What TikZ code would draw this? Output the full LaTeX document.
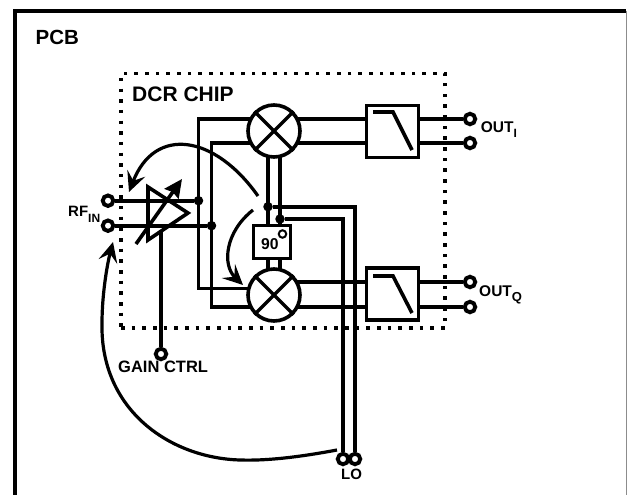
\documentclass[tikz,border=0pt]{standalone}
\usepackage{fontspec}
\setmainfont{Liberation Sans}
\usetikzlibrary{arrows.meta,backgrounds}
\newcommand{\fsz}[1]{\fontsize{#1}{#1}\selectfont\bfseries}
\tikzset{
  wire/.style={line width=3.6pt,line join=miter},
  frameline/.style={line width=3.6pt},
  mixer/.style={circle,draw,fill=white,line width=3.6pt,minimum size=52pt,inner sep=0pt},
  lpf/.style={rectangle,draw,fill=white,line width=3.6pt,minimum width=52pt,minimum height=52pt,inner sep=0pt},
  shifter/.style={rectangle,draw,fill=white,line width=3.6pt,minimum width=37pt,minimum height=33pt,inner sep=0pt},
  terminal/.style={circle,draw,fill=white,line width=3.9pt,minimum size=10.5pt,inner sep=0pt},
  junction/.style={circle,fill=black,minimum size=9.5pt,inner sep=0pt},
  degree/.style={circle,draw,fill=white,line width=2pt,minimum size=7.5pt,inner sep=0pt},
  chip/.style={rectangle,draw,line width=3.5pt,dash pattern=on 3.5pt off 7.17pt,outer sep=0pt,inner sep=0pt,minimum width=324pt,minimum height=254.5pt},
  label/.style={inner sep=0pt,anchor=base west},
  curved/.style={line width=3.2pt},
  barbed/.style={-{Stealth[length=20pt,width=19pt,inset=8pt]}},
  gainarrow/.style={-{Stealth[length=18pt,width=17pt,inset=2pt]}},
}
\begin{document}
\begin{tikzpicture}[x=1pt,y=-1pt]
\useasboundingbox (0,0) rectangle (627,495);
% frame
\coordinate (fBL) at (14.7,495);
\coordinate (fTL) at (14.7,10.8);
\coordinate (fTR) at (626,10.8);
\coordinate (fBR) at (626,495);
\draw[frameline] (fBL) -- (fTL) -- (fTR);
\draw[line width=1pt,black!45] (fTR) -- (fBR);
% blocks
\node[mixer] (mixI) at (274,131) {};
\node[mixer] (mixQ) at (274,295) {};
\node[lpf] (lpfI) at (392.5,131.5) {};
\node[lpf] (lpfQ) at (392.5,294) {};
\node[shifter] (ps) at (272,242) {};
\node[label] (ninety) at (261,249) {\fsz{15.7}90};
\node[degree] (deg) at (282.5,234) {};
\draw[line width=3.3pt] (mixI.45) -- (mixI.225) (mixI.135) -- (mixI.315);
\draw[line width=3.3pt] (mixQ.45) -- (mixQ.225) (mixQ.135) -- (mixQ.315);
% terminals and junctions
\node[terminal] (rfa) at (108,200.7) {};
\node[terminal] (rfb) at (108,225.7) {};
\node[terminal] (oIa) at (470,119) {};
\node[terminal] (oIb) at (470,143) {};
\node[terminal] (oQa) at (470,282) {};
\node[terminal] (oQb) at (470,307) {};
\node[terminal] (gain) at (161,354) {};
\node[terminal] (loa) at (343,459) {};
\node[terminal] (lob) at (355,459) {};
\node[junction] (j1) at (198.5,200.7) {};
\node[junction] (j2) at (211.5,225.7) {};
\node[junction] (j3) at (268,206.7) {};
\node[junction] (j4) at (280,219) {};
\node[chip] (chipbox) at (283,200.75) {};
% corners
\coordinate (c1t) at (198.5,119);
\coordinate (c1b) at (198.5,288.5);
\coordinate (c2t) at (211.5,143);
\coordinate (c2b) at (211.5,307);
\coordinate (c3) at (355,206.7);
\coordinate (c4) at (343,219);
\coordinate (miT) at (268,150);
\coordinate (miB) at (280,150);
\coordinate (mqT) at (268,280);
\coordinate (mqB) at (280,280);
\coordinate (mqin1) at (260,288.5);
\coordinate (mqin2) at (260,307);
\coordinate (miin1) at (260,119);
\coordinate (miin2) at (260,143);
\coordinate (qout1) at (290,282);
\coordinate (qout2) at (290,307);
\coordinate (iout1) at (290,119);
\coordinate (iout2) at (290,143);
\coordinate (lpIa) at (373,112);
\coordinate (lpIb) at (393,112);
\coordinate (lpIc) at (412,150);
\coordinate (lpQa) at (373,276);
\coordinate (lpQb) at (393,276);
\coordinate (lpQc) at (412,313);
\draw[wire] (lpIa) -- (lpIb) -- (lpIc);
\draw[wire] (lpQa) -- (lpQb) -- (lpQc);
\begin{scope}[on background layer]
  \draw[wire] (rfa) -- (j1);
  \draw[wire] (rfb) -- (j2);
  \draw[wire] (miin1) -- (c1t) -- (c1b) -- (mqin1);
  \draw[wire] (miin2) -- (c2t) -- (c2b) -- (mqin2);
  \draw[wire] (iout1) -- (lpfI.west |- iout1);
  \draw[wire] (iout2) -- (lpfI.west |- iout2);
  \draw[wire] (qout1) -- (lpfQ.west |- qout1);
  \draw[wire] (qout2) -- (lpfQ.west |- qout2);
  \draw[wire] (lpfI.east |- oIa) -- (oIa);
  \draw[wire] (lpfI.east |- oIb) -- (oIb);
  \draw[wire] (lpfQ.east |- oQa) -- (oQa);
  \draw[wire] (lpfQ.east |- oQb) -- (oQb);
  \draw[wire] (miT) -- (mqT);
  \draw[wire] (miB) -- (mqB);
  \draw[wire] (j3) -- (c3) -- (lob);
  \draw[wire] (j4) -- (c4) -- (loa);
\end{scope}
% amplifier
\coordinate (t1) at (148,187);
\coordinate (t2) at (188,213);
\coordinate (t3) at (148,240);
\coordinate (gt) at (161,232);
\draw[wire,line join=miter] (t1) -- (t2) -- (t3) -- cycle;
\draw[wire] (gt) -- (gain);
\coordinate (ga) at (136,244);
\coordinate (gb) at (182,179);
\draw[wire,gainarrow] (ga) -- (gb);
% feedback curves
\coordinate (a1s) at (258,196);
\coordinate (a1e) at (129,192);
\draw[curved,barbed] (a1s) .. controls (215,135) and (155,125) .. (a1e);
\coordinate (a2s) at (253,210);
\coordinate (a2e) at (243,285);
\draw[curved,barbed] (a2s) .. controls (225,232) and (222,265) .. (a2e);
\coordinate (a3s) at (337,450);
\coordinate (a3m) at (240,460);
\coordinate (a3n) at (102,323);
\coordinate (a3e) at (113,242);
\draw[curved,barbed] (a3s) .. controls (305,456) and (270,461) .. (a3m)
  .. controls (170,458) and (100,410) .. (a3n)
  .. controls (102,295) and (107,265) .. (a3e);
% labels
\node[label] (pcb) at (35.5,44.5) {\fsz{20.5}PCB};
\node[label] (dcr) at (132,101.5) {\fsz{21}DCR CHIP};
\node[label] (gl) at (118,372) {\fsz{16.5}GAIN CTRL};
\node[label] (lo) at (341,479) {\fsz{15}LO};
\node[label] (rf) at (68,216.7) {\fsz{15}RF\raisebox{-6pt}{\fsz{12}IN}};
\node[label] (oi) at (480.7,132.7) {\fsz{15.5}OUT\raisebox{-5pt}{\fsz{12}I}};
\node[label] (oq) at (479,296) {\fsz{15.5}OUT\raisebox{-5pt}{\fsz{13}Q}};
\end{tikzpicture}
\end{document}
